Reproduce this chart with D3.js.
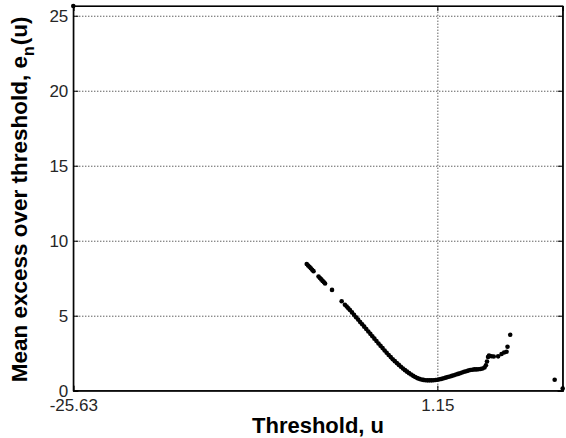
<!DOCTYPE html>
<html>
<head>
<meta charset="utf-8">
<script src="https://cdn.jsdelivr.net/npm/d3@7"></script>
<style>
  html, body { margin: 0; padding: 0; background: #ffffff; }
  svg { display: block; }
</style>
</head>
<body>
<svg id="chart" width="566" height="438"></svg>
<script>
// ---- data ----
const thresholds = [
  -25.63,
  -8.46, -8.36, -8.26, -8.16, -8.06, -7.96,
  -7.59, -7.49, -7.39, -7.29, -7.19, -7.11,
  -6.60,
  -5.89,
  -5.65, -5.52, -5.40, -5.28,
  -5.13, -4.98, -4.83, -4.68, -4.53, -4.38, -4.23, -4.08, -3.93, -3.78,
  -3.63, -3.48, -3.33, -3.18, -3.03, -2.88, -2.73, -2.58, -2.43, -2.28,
  -2.13, -1.98, -1.83, -1.68, -1.53, -1.38, -1.23, -1.08, -0.93, -0.78,
  -0.63, -0.48, -0.33, -0.18, -0.03, 0.12, 0.27, 0.42, 0.57, 0.72,
  0.87, 1.02, 1.17, 1.32, 1.47, 1.62, 1.77, 1.92, 2.07, 2.22,
  2.37, 2.52, 2.67, 2.82, 2.97, 3.12, 3.27, 3.42, 3.57, 3.72,
  3.87, 4.02, 4.17, 4.32, 4.47, 4.62,
  4.72, 4.80, 4.88, 4.95,
  5.13, 5.30, 5.62, 5.87, 6.06, 6.24, 6.31, 6.51, 9.78, 10.37
];
const meanExcess = [
  25.65,
  8.45, 8.35, 8.26, 8.16, 8.06, 7.97,
  7.61, 7.51, 7.42, 7.32, 7.23, 7.15,
  6.72,
  5.96,
  5.73, 5.61, 5.49, 5.38,
  5.22, 5.06, 4.90, 4.74, 4.58, 4.43, 4.27, 4.11, 3.95, 3.79,
  3.63, 3.47, 3.31, 3.15, 2.99, 2.84, 2.68, 2.53, 2.38, 2.24,
  2.10, 1.97, 1.84, 1.72, 1.60, 1.48, 1.37, 1.27, 1.17, 1.08,
  0.99, 0.91, 0.84, 0.79, 0.75, 0.72, 0.70, 0.69, 0.69, 0.69,
  0.70, 0.71, 0.73, 0.76, 0.79, 0.83, 0.87, 0.91, 0.95, 0.99,
  1.03, 1.08, 1.12, 1.16, 1.21, 1.26, 1.30, 1.34, 1.38, 1.40,
  1.42, 1.42, 1.43, 1.45, 1.48, 1.55,
  1.70, 1.95, 2.25, 2.35,
  2.30, 2.28, 2.29, 2.45, 2.55, 2.60, 2.93, 3.73, 0.73, 0.15
];
const xTickValues = [-25.63, 1.15];
const yTickValues = [0, 5, 10, 15, 20, 25];
const xDomain = [-25.63, 10.37];
const yDomain = [0, 25.65];
const xLabel = "Threshold, u";
const yLabelMain = "Mean excess over threshold, e";
const yLabelSub = "n";
const yLabelTail = "(u)";

// ---- layout ----
const svg = d3.select("#chart");
const mLeft = 73.3, mRight = 562.7, mTop = 6, mBottom = 390.7;
const W = mRight - mLeft, H = mBottom - mTop;
const FONT = "'Liberation Sans', Arial, Helvetica, sans-serif";

const x = d3.scaleLinear().domain(xDomain).range([0, W]);
const y = d3.scaleLinear().domain(yDomain).range([H, 0]);

const g = svg.append("g").attr("transform", `translate(${mLeft},${mTop})`);

// grid lines (dotted)
g.append("g").attr("class", "grid")
  .call(d3.axisLeft(y).tickValues(yTickValues.filter(v => v > 0)).tickSize(-W).tickFormat(""));
g.append("g").attr("class", "grid")
  .attr("transform", `translate(0,${H})`)
  .call(d3.axisBottom(x).tickValues(xTickValues.filter(v => v > xDomain[0])).tickSize(-H).tickFormat(""));
g.selectAll(".grid .domain").remove();
g.selectAll(".grid line")
  .attr("stroke", "#1a1a1a")
  .attr("stroke-width", 1)
  .attr("stroke-dasharray", "1,2");

// data points
const pts = d3.range(Math.min(thresholds.length, meanExcess.length))
  .map(i => ({ u: thresholds[i], e: meanExcess[i] }));
g.append("g").selectAll("circle")
  .data(pts).enter().append("circle")
  .attr("cx", d => x(d.u))
  .attr("cy", d => y(d.e))
  .attr("r", 2.3)
  .attr("fill", "#000");

// axes with inward ticks
const fmt = d => d.toFixed(2);
const axL = g.append("g").call(d3.axisLeft(y).tickValues(yTickValues).tickSize(-5).tickPadding(5).tickFormat(d3.format("d")));
const axR = g.append("g").attr("transform", `translate(${W},0)`)
  .call(d3.axisRight(y).tickValues(yTickValues).tickSize(-5).tickFormat(""));
const axB = g.append("g").attr("transform", `translate(0,${H})`)
  .call(d3.axisBottom(x).tickValues(xTickValues).tickSize(-5).tickPadding(8).tickFormat(fmt));
const axT = g.append("g")
  .call(d3.axisTop(x).tickValues(xTickValues).tickSize(-5).tickFormat(""));

[axL, axR, axB, axT].forEach(a => {
  a.select(".domain").attr("stroke", "#000").attr("stroke-width", 1.2);
  a.selectAll(".tick line").attr("stroke", "#000").attr("stroke-width", 1);
  a.selectAll(".tick text")
    .attr("font-family", FONT)
    .attr("font-size", 17)
    .attr("fill", "#262626");
});

// box
g.append("rect")
  .attr("x", 0).attr("y", 0).attr("width", W).attr("height", H)
  .attr("fill", "none").attr("stroke", "#000").attr("stroke-width", 1.2);

// axis labels
svg.append("text")
  .attr("x", mLeft + W / 2)
  .attr("y", 433)
  .attr("text-anchor", "middle")
  .attr("font-family", FONT)
  .attr("font-weight", "bold")
  .attr("font-size", 22)
  .attr("fill", "#000")
  .text(xLabel);

const yl = svg.append("text")
  .attr("transform", `translate(27,${mTop + H / 2 + 1}) rotate(-90)`)
  .attr("text-anchor", "middle")
  .attr("font-family", FONT)
  .attr("font-weight", "bold")
  .attr("font-size", 22.5)
  .attr("fill", "#000");
yl.append("tspan").text(yLabelMain);
yl.append("tspan").attr("dy", 7).attr("font-size", 16).text(yLabelSub);
yl.append("tspan").attr("dy", -7).attr("dx", 1).text(yLabelTail);
</script>
</body>
</html>
